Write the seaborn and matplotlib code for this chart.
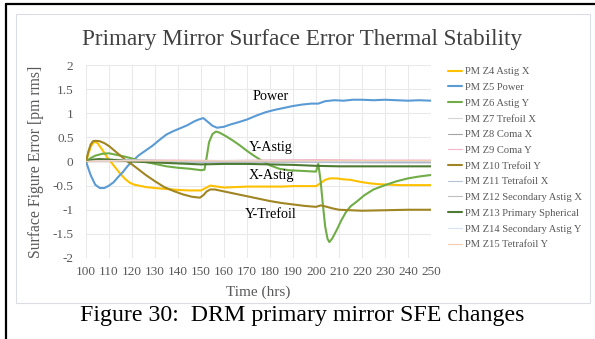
import matplotlib
matplotlib.use("Agg")
import matplotlib.pyplot as plt
import seaborn as sns
import pandas as pd
from matplotlib.lines import Line2D
from matplotlib.patches import Rectangle

# ---- series data (time in hours, surface figure error in pm rms) ----
power_t = [100, 102, 104, 106, 108, 110, 112, 114, 116, 118, 120, 123, 126, 129, 132, 135, 138, 141,
           144, 147, 149, 151, 153, 155, 157, 160, 163, 166, 170, 174, 178, 182, 186, 190, 194, 198,
           201, 204, 208, 212, 216, 220, 225, 230, 235, 240, 245, 250]
power_v = [0.0, -0.28, -0.48, -0.55, -0.55, -0.5, -0.43, -0.32, -0.22, -0.1, 0.0, 0.13, 0.23, 0.33,
           0.45, 0.56, 0.63, 0.69, 0.75, 0.83, 0.87, 0.9, 0.82, 0.74, 0.7, 0.72, 0.77, 0.81, 0.87,
           0.95, 1.02, 1.07, 1.11, 1.15, 1.18, 1.2, 1.2, 1.25, 1.27, 1.26, 1.28, 1.28, 1.27, 1.28,
           1.27, 1.26, 1.27, 1.26]

astig_y_t = [100, 102, 104, 107, 110, 113, 117, 121, 125, 130, 135, 140, 145, 150, 151.5, 152.5,
             153.5, 155, 156.5, 158, 161, 164, 167, 170, 173, 176, 180, 184, 188, 192, 196, 200,
             201, 202, 203, 204, 205, 205.8, 207, 209, 211, 213, 215, 218, 221, 225, 230, 235,
             240, 245, 250]
astig_y_v = [0.0, 0.07, 0.12, 0.16, 0.17, 0.14, 0.1, 0.05, 0.0, -0.05, -0.1, -0.13, -0.15, -0.18,
             -0.17, 0.1, 0.4, 0.57, 0.62, 0.6, 0.52, 0.43, 0.33, 0.22, 0.12, 0.03, -0.08, -0.15,
             -0.18, -0.19, -0.2, -0.21, -0.05, -0.4, -0.9, -1.35, -1.6, -1.67, -1.6, -1.42, -1.22,
             -1.05, -0.93, -0.82, -0.7, -0.58, -0.49, -0.41, -0.35, -0.31, -0.28]

astig_x_t = [100, 101, 102, 103, 104, 105, 107, 109, 111, 113, 115, 117, 119, 121, 123, 126, 130,
             135, 140, 145, 150, 152, 154, 157, 160, 165, 170, 175, 180, 185, 190, 195, 200, 202,
             204, 206, 209, 212, 215, 219, 223, 227, 232, 237, 242, 250]
astig_x_v = [0.0, 0.15, 0.3, 0.38, 0.41, 0.38, 0.25, 0.1, -0.02, -0.14, -0.26, -0.36, -0.44, -0.48,
             -0.5, -0.53, -0.55, -0.57, -0.59, -0.6, -0.6, -0.55, -0.5, -0.52, -0.54, -0.53, -0.52,
             -0.52, -0.52, -0.52, -0.51, -0.51, -0.51, -0.45, -0.38, -0.35, -0.35, -0.37, -0.38,
             -0.42, -0.45, -0.47, -0.48, -0.49, -0.49, -0.49]

trefoil_y_t = [100, 101, 102, 103, 104, 106, 108, 110, 112, 114, 116, 118, 120, 123, 126, 130, 134,
               138, 142, 146, 149.5, 151, 152.5, 154, 156, 160, 165, 170, 175, 180, 185, 190, 195,
               200, 202, 204, 207, 210, 215, 220, 230, 240, 250]
trefoil_y_v = [0.0, 0.2, 0.35, 0.42, 0.43, 0.42, 0.38, 0.32, 0.24, 0.16, 0.08, 0.0, -0.06, -0.17,
               -0.28, -0.41, -0.53, -0.61, -0.68, -0.73, -0.75, -0.7, -0.62, -0.58, -0.58, -0.62,
               -0.67, -0.72, -0.77, -0.82, -0.86, -0.89, -0.92, -0.94, -0.91, -0.93, -0.97, -1.0,
               -1.01, -1.02, -1.01, -1.0, -1.0]

spherical_t = [100, 103, 106, 110, 115, 120, 130, 140, 150, 160, 170, 180, 190, 200, 210, 220, 230,
               240, 250]
spherical_v = [0.0, 0.04, 0.05, 0.04, 0.02, 0.0, -0.02, -0.04, -0.06, -0.05, -0.05, -0.06, -0.07,
               -0.09, -0.1, -0.1, -0.1, -0.1, -0.1]

minor_t = [100, 105, 120, 140, 160, 180, 200, 225, 250]
trefoil_x_v = [0.0, 0.02, 0.03, 0.02, 0.02, 0.03, 0.03, 0.02, 0.02]
coma_x_v = [0.0, 0.03, 0.01, 0.0, -0.01, -0.01, -0.02, -0.02, -0.02]
coma_y_v = [0.0, 0.04, 0.03, 0.03, 0.02, 0.03, 0.04, 0.03, 0.03]
tetrafoil_x_v = [0.0, 0.01, 0.0, -0.02, -0.02, -0.01, -0.02, -0.03, -0.03]
sec_astig_x_v = [0.0, 0.05, 0.04, 0.01, 0.0, 0.01, 0.0, 0.0, 0.0]
sec_astig_y_v = [0.0, 0.02, 0.02, 0.01, 0.02, 0.02, 0.01, 0.01, 0.01]
tetrafoil_y_v = [0.0, 0.01, 0.01, 0.02, 0.01, 0.01, 0.02, 0.02, 0.02]

x_ticks = list(range(100, 251, 10))
y_ticks = [-2, -1.5, -1, -0.5, 0, 0.5, 1, 1.5, 2]
y_tick_labels = ["-2", "-1.5", "-1", "-0.5", "0", "0.5", "1", "1.5", "2"]

# (label, times, values, colour, line width)
series = [
    ("PM Z4 Astig X", astig_x_t, astig_x_v, "#FFC000", 1.5),
    ("PM Z5 Power", power_t, power_v, "#5B9BD5", 1.5),
    ("PM Z6 Astig Y", astig_y_t, astig_y_v, "#70AD47", 1.5),
    ("PM Z7 Trefoil X", minor_t, trefoil_x_v, "#D6D6D6", 0.8),
    ("PM Z8 Coma X", minor_t, coma_x_v, "#A5A5A5", 0.8),
    ("PM Z9 Coma Y", minor_t, coma_y_v, "#F4B6C8", 0.8),
    ("PM Z10 Trefoil Y", trefoil_y_t, trefoil_y_v, "#A08523", 1.5),
    ("PM Z11 Tetrafoil X", minor_t, tetrafoil_x_v, "#B7C2D6", 0.8),
    ("PM Z12 Secondary Astig X", minor_t, sec_astig_x_v, "#BFBFBF", 0.8),
    ("PM Z13 Primary Spherical", spherical_t, spherical_v, "#4E7A34", 1.5),
    ("PM Z14 Secondary Astig Y", minor_t, sec_astig_y_v, "#DAE3F3", 0.8),
    ("PM Z15 Tetrafoil Y", minor_t, tetrafoil_y_v, "#F8CBAD", 0.8),
]

sns.set_theme(style="white")
plt.rcParams["font.family"] = ["Liberation Serif", "DejaVu Serif"]

W, H = 595, 339
fig = plt.figure(figsize=(W / 100, H / 100), dpi=100)
fig.patch.set_facecolor("white")

# chart area frame and page borders
fig.add_artist(Rectangle((16 / W, 1 - 303 / H), (590 - 16) / W, (303 - 14) / H,
                         transform=fig.transFigure, fill=False, edgecolor="#DCDCE4", lw=0.8))
fig.add_artist(Line2D([5.5 / W, 1], [1 - 4 / H, 1 - 4 / H], transform=fig.transFigure,
                      color="black", lw=1.6))
fig.add_artist(Line2D([6 / W, 6 / W], [0, 1 - 3.5 / H], transform=fig.transFigure,
                      color="black", lw=1.6))

ax = fig.add_axes([86 / W, 1 - 258 / H, (431 - 86) / W, (258 - 65) / H])

handles = []
for name, t, v, color, lw in series:
    df = pd.DataFrame({"t": t, "v": v})
    sns.lineplot(data=df, x="t", y="v", ax=ax, color=color, linewidth=lw, legend=False)
    handles.append(Line2D([], [], color=color, lw=lw, label=name))

ax.set_xlim(100, 250)
ax.set_ylim(-2, 2)
ax.set_xticks(x_ticks)
ax.set_yticks(y_ticks)
ax.set_yticklabels(y_tick_labels)
ax.grid(True, color="#E9E9E9", lw=0.75)
ax.set_axisbelow(True)
for s in ax.spines.values():
    s.set_visible(False)
ax.tick_params(length=0, labelsize=9.5, labelcolor="#595959")
ax.tick_params(axis="y", pad=9)
ax.tick_params(axis="x", pad=6)
ax.set_xlabel("Time (hrs)", fontsize=11, color="#595959", labelpad=5)
ax.set_ylabel("Surface Figure Error [pm rms]", fontsize=11.3, color="#595959", labelpad=6)

for txt, y in [("Power", 1.34), ("Y-Astig", 0.30), ("X-Astig", -0.28), ("Y-Trefoil", -1.10)]:
    ax.text(180.5, y, txt, ha="center", va="center", fontsize=10.2, color="black")

fig.text(302 / W, 1 - 40 / H, "Primary Mirror Surface Error Thermal Stability",
         ha="center", va="center", fontsize=16.7, color="#404040")

fig.legend(handles=handles, loc="upper left", bbox_to_anchor=(448 / W, 1 - 67 / H),
           frameon=False, fontsize=7.6, handlelength=1.3, handletextpad=0.3,
           labelspacing=0.6, borderpad=0, borderaxespad=0, labelcolor="#595959")

fig.text(302 / W, 1 - 316 / H, "Figure 30:  DRM primary mirror SFE changes",
         ha="center", va="center", fontsize=17.2, color="black")

fig.savefig("out.png", dpi=100)
